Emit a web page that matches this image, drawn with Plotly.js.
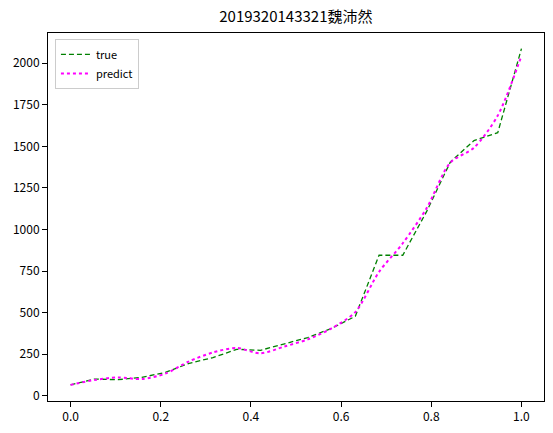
<!DOCTYPE html>
<html>
<head>
<meta charset="utf-8">
<script src="https://cdn.plot.ly/plotly-3.0.1.min.js"></script>
<style>html,body{margin:0;padding:0;background:#fff;}#chart{width:553px;height:433px;}</style>
</head>
<body>
<div id="chart"></div>
<script>
const xValues = [0, 0.0526, 0.1053, 0.1579, 0.2105, 0.2632, 0.3158, 0.3684, 0.4211, 0.4737,
                 0.5263, 0.5789, 0.6316, 0.6842, 0.7368, 0.7895, 0.8421, 0.8947, 0.9474, 1.0];
const trueValues = [65, 100, 96, 110, 140, 195, 229, 279, 273, 310,
                    350, 405, 478, 845, 845, 1107, 1405, 1535, 1582, 2088];
const predictValues = [65, 94, 110, 100, 133, 207, 260, 287, 255, 295,
                       339, 405, 503, 745, 917, 1127, 1402, 1492, 1685, 2045];
const titleText = '2019320143321魏沛然';
const fontFamily = '"Noto Sans CJK SC", "DejaVu Sans", sans-serif';

const traces = [
  {x: xValues, y: trueValues, mode: 'lines', name: 'true',
   line: {color: 'green', width: 1.3, dash: '5px,3px'}},
  {x: xValues, y: predictValues, mode: 'lines', name: 'predict',
   line: {color: 'magenta', width: 2, dash: 'dot', shape: 'spline', smoothing: 0.8}}
];

const axisCommon = {
  showgrid: false, zeroline: false, showline: true, mirror: true,
  linecolor: 'black', linewidth: 1, ticks: 'outside', ticklen: 5, tickwidth: 1,
  tickcolor: 'black', tickfont: {family: fontFamily, size: 12, color: 'black'}
};

const layout = {
  width: 553, height: 433,
  margin: {l: 48, r: 9, t: 33, b: 32, pad: 0},
  paper_bgcolor: 'white', plot_bgcolor: 'white',
  title: {text: titleText, x: 0.535, xanchor: 'center', y: 0.962, yanchor: 'middle',
          font: {family: fontFamily, size: 15, color: 'black'}},
  xaxis: Object.assign({}, axisCommon, {range: [-0.05, 1.05], tickvals: [0, 0.2, 0.4, 0.6, 0.8, 1.0],
          ticktext: ['0.0', '0.2', '0.4', '0.6', '0.8', '1.0']}),
  yaxis: Object.assign({}, axisCommon, {range: [-32, 2182], tickvals: [0, 250, 500, 750, 1000, 1250, 1500, 1750, 2000]}),
  showlegend: true,
  legend: {x: 0.014, y: 0.984, xanchor: 'left', yanchor: 'top', bgcolor: 'white',
           bordercolor: '#cccccc', borderwidth: 1, entrywidth: 100,
           font: {family: fontFamily, size: 11, color: 'black'}, tracegroupgap: 0}
};

Plotly.newPlot('chart', traces, layout, {displayModeBar: false, staticPlot: true});
</script>
</body>
</html>
